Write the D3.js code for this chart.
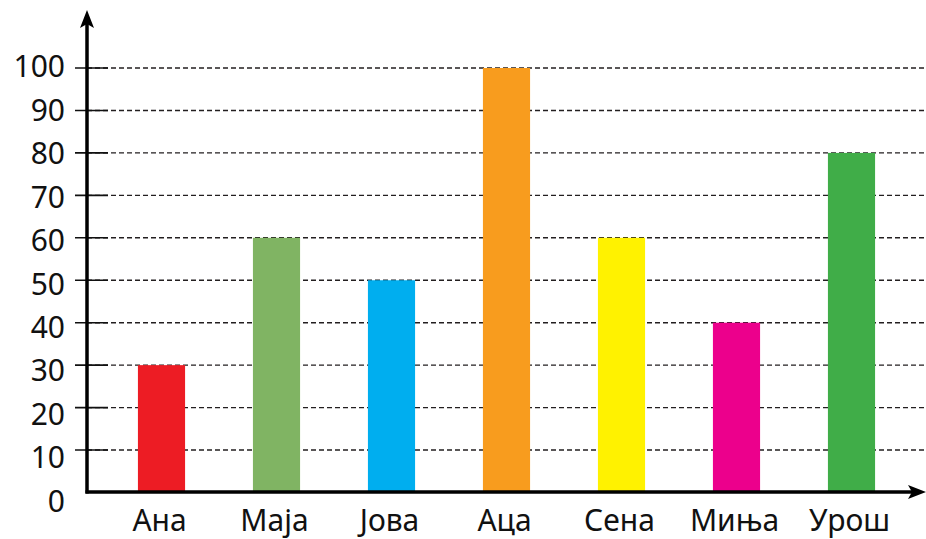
<!doctype html>
<html>
<head>
<meta charset="utf-8">
<script src="https://d3js.org/d3.v7.min.js"></script>
<style>
  body { margin: 0; background: #fff; }
  text { font-family: "Noto Sans", sans-serif; fill: #111; }
</style>
</head>
<body>
<svg width="926" height="539"></svg>
<script>
  var names = ["Ана", "Маја", "Јова", "Аца", "Сена", "Миња", "Урош"];
  var values = [30, 60, 50, 100, 60, 40, 80];
  var colors = ["#ed1c24", "#80b463", "#00aeef", "#f89c1e", "#fff200", "#ec008c", "#40ad48"];
  var yTicks = [0, 10, 20, 30, 40, 50, 60, 70, 80, 90, 100];

  var svg = d3.select("svg");
  var axisX = 87, axisY = 492;

  var x = d3.scaleBand().domain(names).range([104, 909])
      .paddingInner(0.59).paddingOuter(0.295);
  var y = d3.scaleLinear().domain([0, 100]).range([492.5, 68]);
  // tick labels sit a little off the grid lines in the original
  var yLab = d3.scaleLinear().domain([0, 100]).range([501, 66.5]);

  // dashed grid lines
  svg.append("g").selectAll("line")
    .data(yTicks.filter(function(d) { return d > 0; }))
    .enter().append("line")
    .attr("x1", axisX).attr("x2", 926)
    .attr("y1", function(d) { return y(d); })
    .attr("y2", function(d) { return y(d); })
    .attr("stroke", "#231f20")
    .attr("stroke-width", 1.4)
    .attr("stroke-dasharray", "5,3");

  // short solid tick marks
  svg.append("g").selectAll("line")
    .data(yTicks.filter(function(d) { return d > 0; }))
    .enter().append("line")
    .attr("x1", 75).attr("x2", 108)
    .attr("y1", function(d) { return y(d); })
    .attr("y2", function(d) { return y(d); })
    .attr("stroke", "#111")
    .attr("stroke-width", 1.6);

  // bars
  svg.append("g").selectAll("rect")
    .data(values)
    .enter().append("rect")
    .attr("x", function(d, i) { return x(names[i]); })
    .attr("width", x.bandwidth())
    .attr("y", function(d) { return y(d); })
    .attr("height", function(d) { return y(0) - y(d); })
    .attr("fill", function(d, i) { return colors[i]; });

  // axes with arrows
  svg.append("line")
    .attr("x1", axisX).attr("x2", axisX)
    .attr("y1", axisY + 1.5).attr("y2", 22)
    .attr("stroke", "#000").attr("stroke-width", 3.5);
  svg.append("path")
    .attr("d", "M" + axisX + ",10 L" + (axisX - 7) + ",28 L" + axisX + ",24 L" + (axisX + 7) + ",28 Z")
    .attr("fill", "#000");

  svg.append("line")
    .attr("x1", axisX - 1.5).attr("x2", 914)
    .attr("y1", axisY).attr("y2", axisY)
    .attr("stroke", "#000").attr("stroke-width", 3.5);
  svg.append("path")
    .attr("d", "M926," + axisY + " L908," + (axisY - 7) + " L912," + axisY + " L908," + (axisY + 7) + " Z")
    .attr("fill", "#000");

  // y labels
  svg.append("g").selectAll("text")
    .data(yTicks)
    .enter().append("text")
    .attr("x", 65)
    .attr("y", function(d) { return yLab(d); })
    .attr("dy", "0.36em")
    .attr("text-anchor", "end")
    .attr("font-size", 30)
    .text(function(d) { return d; });

  // category labels
  svg.append("g").selectAll("text")
    .data(names)
    .enter().append("text")
    .attr("x", function(d) { return x(d) + x.bandwidth() / 2 - 2; })
    .attr("y", 531)
    .attr("text-anchor", "middle")
    .attr("font-size", 30)
    .text(function(d) { return d; });
</script>
</body>
</html>
